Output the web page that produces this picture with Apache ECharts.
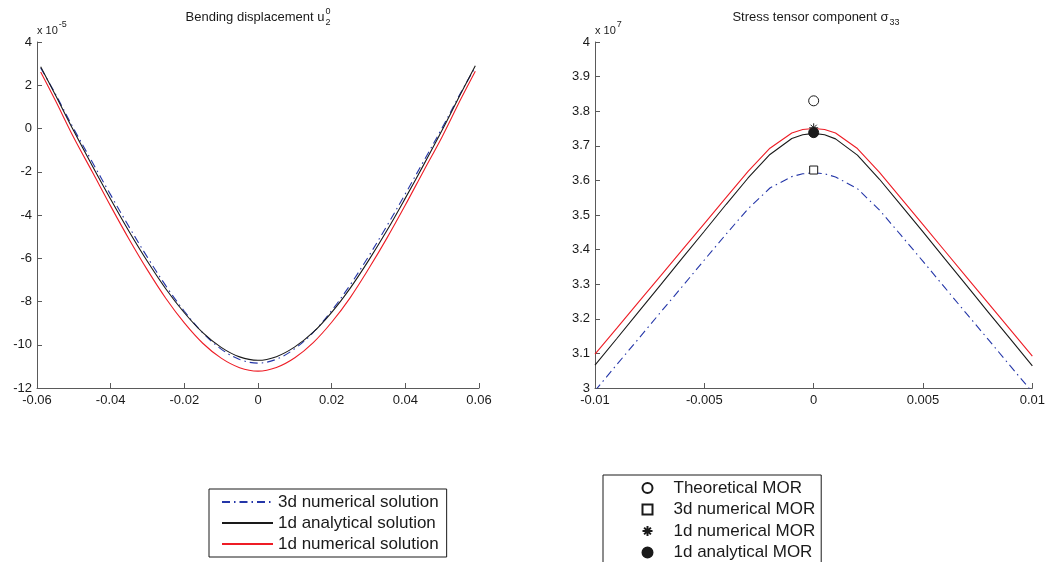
<!DOCTYPE html>
<html><head><meta charset="utf-8">
<script src="https://cdn.jsdelivr.net/npm/echarts@6/dist/echarts.min.js"></script>
<style>html,body{margin:0;padding:0;background:#fff}#c{width:1048px;height:562px}</style>
</head><body><div id="c"></div>
<script>
const FONT = "'Liberation Sans', Arial, Helvetica, sans-serif";

// ---- Left panel: bending displacement (units of 1e-5) ----
const dispX = [-0.059,-0.055,-0.05,-0.045,-0.04,-0.035,-0.03,-0.025,-0.02,-0.015,-0.01,-0.005,0,
               0.005,0.01,0.015,0.02,0.025,0.03,0.035,0.04,0.045,0.05,0.055,0.059];
const disp3dNumerical = [2.80,1.60,-0.02,-1.55,-3.07,-4.55,-5.96,-7.28,-8.45,-9.45,-10.20,-10.68,-10.85,
                         -10.67,-10.18,-9.43,-8.42,-7.24,-5.92,-4.50,-3.02,-1.50,0.03,1.64,2.84];
const disp1dAnalytical = [2.86,1.55,-0.12,-1.72,-3.27,-4.76,-6.15,-7.42,-8.52,-9.44,-10.12,-10.56,-10.72,
                          -10.55,-10.10,-9.42,-8.50,-7.39,-6.11,-4.72,-3.22,-1.67,-0.07,1.60,2.90];
const disp1dNumerical = [2.61,1.29,-0.43,-2.00,-3.59,-5.12,-6.55,-7.86,-8.99,-9.93,-10.62,-11.06,-11.22,
                         -11.05,-10.60,-9.90,-8.96,-7.83,-6.50,-5.07,-3.54,-1.95,-0.38,1.34,2.65];

// ---- Right panel: stress sigma_33 (units of 1e7) ----
const stressX = [-0.01,-0.009,-0.008,-0.007,-0.006,-0.005,-0.004,-0.003,-0.002,-0.001,-0.0005,0,
                 0.0005,0.001,0.002,0.003,0.004,0.005,0.006,0.007,0.008,0.009,0.01];
const stress3dNumerical = [2.992,3.068,3.143,3.219,3.294,3.370,3.445,3.518,3.578,3.611,3.619,3.622,
                           3.619,3.610,3.576,3.515,3.441,3.366,3.290,3.214,3.139,3.063,2.988];
const stress1dAnalytical = [3.066,3.143,3.221,3.298,3.376,3.453,3.531,3.607,3.675,3.721,3.732,3.736,
                            3.732,3.720,3.673,3.604,3.528,3.451,3.373,3.296,3.218,3.141,3.064];
const stress1dNumerical = [3.098,3.173,3.249,3.324,3.400,3.475,3.551,3.626,3.693,3.737,3.747,3.750,
                           3.747,3.737,3.692,3.624,3.548,3.472,3.396,3.320,3.244,3.168,3.092];

// MOR points at x = 0
const morX = 0;
const morTheoretical = 3.83;
const mor3dNumerical = 3.63;
const mor1dNumerical = 3.752;
const mor1dAnalytical = 3.738;

// axis ranges [min, max, interval]
const dispXAxis = [-0.06, 0.06, 0.02];
const dispYAxis = [-12, 4, 2];
const stressXAxis = [-0.01, 0.01, 0.005];
const stressYAxis = [3, 4, 0.1];

const lineNames = ['3d numerical solution', '1d analytical solution', '1d numerical solution'];
const morNames = ['Theoretical MOR', '3d numerical MOR', '1d numerical MOR', '1d analytical MOR'];

const BLUE = '#2436a8', BLACK = '#1a1a1a', RED = '#ee1c25', AXIS = '#5a5a5a', TXT = '#1a1a1a';
const DASHDOT = [8, 4, 1.5, 4];

function zip(xs, ys) { return xs.map((x, i) => [x, ys[i]]); }
const fmtX = v => { const r = Math.round(v * 1000) / 1000; return r === 0 ? '0' : String(r); };
const fmtY1 = v => String(Math.round(v));
const fmtY2 = v => String(Math.round(v * 10) / 10);

function xAxis(gi, r) {
  return { type: 'value', gridIndex: gi, min: r[0], max: r[1], interval: r[2],
    axisLine: { show: true, onZero: false, lineStyle: { color: AXIS, width: 1 } },
    axisTick: { show: true, inside: true, length: 5, lineStyle: { color: AXIS } },
    axisLabel: { color: TXT, fontSize: 13, fontFamily: FONT, margin: 6, formatter: fmtX, showMinLabel: true, showMaxLabel: true },
    splitLine: { show: false } };
}
function yAxis(gi, r, fmt) {
  return { type: 'value', gridIndex: gi, min: r[0], max: r[1], interval: r[2],
    axisLine: { show: true, onZero: false, lineStyle: { color: AXIS, width: 1 } },
    axisTick: { show: true, inside: true, length: 5, lineStyle: { color: AXIS } },
    axisLabel: { color: TXT, fontSize: 13, fontFamily: FONT, margin: 5, formatter: fmt, showMinLabel: true, showMaxLabel: true },
    splitLine: { show: false } };
}
function lineSeries(name, gi, xs, ys, color, dash) {
  return { name, type: 'line', xAxisIndex: gi, yAxisIndex: gi, data: zip(xs, ys),
    symbol: 'none', showSymbol: false, smooth: gi === 0 ? 0.35 : false, animation: false,
    lineStyle: { color, width: 1.1, type: dash || 'solid' }, itemStyle: { color, opacity: 0 } };
}
const ASTER = 'path://M5,0L5,10M0,5L10,5M1.6,1.6L8.4,8.4M1.6,8.4L8.4,1.6';
const SQUARE = 'path://M0,0L10,0L10,10L0,10Z';
function morSeries(name, y, symbol, fill, size) {
  return { name, type: 'scatter', xAxisIndex: 1, yAxisIndex: 1, data: [[morX, y]], symbol, symbolSize: size,
    animation: false, z: 5,
    itemStyle: { color: fill, borderColor: BLACK, borderWidth: 1, opacity: 1 } };
}

// text measuring for titles with sub/superscripts
const ctx = document.createElement('canvas').getContext('2d');
function tw(text, size) { ctx.font = size + 'px ' + FONT; return ctx.measureText(text).width; }

function titleGraphic(cx, y, main, sup, sub) {
  const mw = tw(main, 13);
  const sw = Math.max(sup ? tw(sup, 9) : 0, sub ? tw(sub, 9) : 0);
  const x0 = cx - (mw + sw + 1) / 2;
  const els = [{ type: 'text', left: x0, top: y - 8, style: { text: main, font: '13px ' + FONT, fill: TXT } }];
  if (sup) els.push({ type: 'text', left: x0 + mw + 1, top: y - 12, style: { text: sup, font: '9px ' + FONT, fill: TXT } });
  if (sub) els.push({ type: 'text', left: x0 + mw + 1, top: y - 1, style: { text: sub, font: '9px ' + FONT, fill: TXT } });
  return els;
}
function multGraphic(x, y, exp) {
  const w = tw('x 10', 11);
  return [
    { type: 'text', left: x, top: y - 6, style: { text: 'x 10', font: '11px ' + FONT, fill: TXT } },
    { type: 'text', left: x + w + 1, top: y - 11, style: { text: exp, font: '9px ' + FONT, fill: TXT } }
  ];
}

const chart = echarts.init(document.getElementById('c'), null, { renderer: 'canvas' });
chart.setOption({
  backgroundColor: '#fff',
  animation: false,
  grid: [
    { left: 37, top: 42, width: 442, height: 346 },
    { left: 595, top: 42, width: 442, height: 346 }
  ],
  xAxis: [xAxis(0, dispXAxis), xAxis(1, stressXAxis)],
  yAxis: [yAxis(0, dispYAxis, fmtY1), yAxis(1, stressYAxis, fmtY2)],
  legend: [
    { data: lineNames, orient: 'vertical', left: 209, top: 489, itemWidth: 51, itemHeight: 14, itemGap: 3,
      padding: [4, 8, 4, 12], borderColor: BLACK, borderWidth: 1, backgroundColor: '#fff', selectedMode: false,
      textStyle: { color: TXT, fontSize: 17, fontFamily: FONT, lineHeight: 18 } },
    { data: [morNames[0], { name: morNames[1], icon: SQUARE }, morNames[2], morNames[3]],
      orient: 'vertical', left: 603, top: 475, height: 100, itemWidth: 42, itemHeight: 10, itemGap: 3.5,
      padding: [4, 6, 8, 37], borderColor: BLACK, borderWidth: 1, backgroundColor: '#fff', selectedMode: false,
      textStyle: { color: TXT, fontSize: 17, fontFamily: FONT, lineHeight: 18 } }
  ],
  graphic: [].concat(
    titleGraphic(258, 19, 'Bending displacement u', '0', '2'),
    titleGraphic(816, 19, 'Stress tensor component \u03c3', null, '33'),
    multGraphic(37, 31, '-5'),
    multGraphic(595, 31, '7')
  ),
  series: [
    lineSeries(lineNames[0], 0, dispX, disp3dNumerical, BLUE, DASHDOT),
    lineSeries(lineNames[1], 0, dispX, disp1dAnalytical, BLACK),
    lineSeries(lineNames[2], 0, dispX, disp1dNumerical, RED),
    lineSeries('stress 3d', 1, stressX, stress3dNumerical, BLUE, DASHDOT),
    lineSeries('stress 1d analytical', 1, stressX, stress1dAnalytical, BLACK),
    lineSeries('stress 1d numerical', 1, stressX, stress1dNumerical, RED),
    morSeries(morNames[0], morTheoretical, 'circle', '#fff', 10),
    morSeries(morNames[1], mor3dNumerical, SQUARE, '#fff', 8),
    morSeries(morNames[2], mor1dNumerical, ASTER, 'none', 9),
    morSeries(morNames[3], mor1dAnalytical, 'circle', BLACK, 10)
  ]
});
</script></body></html>
